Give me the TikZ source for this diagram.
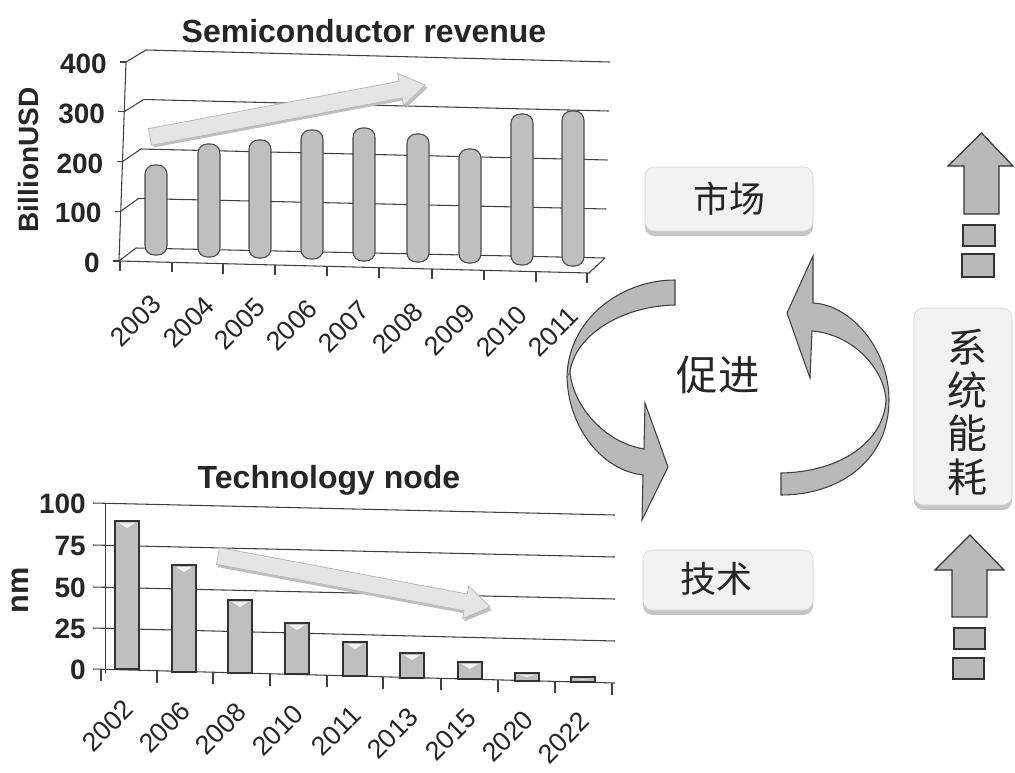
\documentclass[tikz,border=0pt]{standalone}
\usepackage{fontspec}
\setmainfont{Liberation Sans}
\newfontfamily\cjk{Noto Sans CJK SC}
\begin{document}
\begin{tikzpicture}[x=0.75pt,y=-0.75pt,
  gridl/.style={draw=black!75,line width=0.8pt},
  cyl/.style={fill=gray!50,draw=black!70,line width=0.8pt,rounded corners=7pt},
  blk/.style={fill=gray!50,draw=black!80,line width=0.9pt},
  ylab/.style={font=\bfseries\fontsize{21}{21}\selectfont,anchor=east,text=black!85,inner sep=0pt},
  yearlab/.style={font=\fontsize{20}{20}\selectfont,rotate=45,anchor=east,text=black!85,inner sep=1pt},
  ttl/.style={font=\bfseries\fontsize{24}{24}\selectfont,text=black!85},
  axttl/.style={font=\bfseries\fontsize{21}{21}\selectfont,text=black!85,rotate=90},
  cnbox/.style={rounded corners=7pt,fill=gray!10,draw=gray!35},
  cnshadow/.style={rounded corners=7pt,fill=gray!45,draw=none},
  cn/.style={font=\cjk\fontsize{27}{27}\selectfont,text=black!85},
  ribbon/.style={fill=gray!55,draw=black!75,line width=0.8pt},
  bigarrow/.style={fill=gray!55,draw=black!80,line width=0.9pt},
  lightarrow/.style={fill=gray!20,draw=gray!55,line width=0.6pt},
  lightshadow/.style={fill=gray!50,draw=none}
]
\useasboundingbox (0,0) rectangle (1015,772);

% ================= top chart =================
\node[ttl] (t1) at (364,31) {Semiconductor revenue};
\node[axttl] (ay1) at (28,160) {BillionUSD};
\foreach \k in {0,...,4}{
  \draw[gridl] ({126-1.75*\k},{62+49.75*\k}) -- ({146-2.5*\k},{50+49.5*\k}) -- ({610-1.25*\k},{62+49*\k});
  \draw[gridl] ({120-1.75*\k},{62+49.75*\k}) -- ({126-1.75*\k},{62+49.75*\k});
  \pgfmathtruncatemacro{\v}{400-100*\k}
  \node[ylab] (yl\k) at ({107-1.75*\k},{64+49.75*\k}) {\v};
}
\draw[gridl] (126,62) -- (119,261) -- (589,273) -- (605,258);
\foreach \x in {120,172,223,275,327,379,432,484,536,587}{
  \draw[gridl] (\x,{261+(\x-119)*12/470}) -- ++(0,10);
}
\foreach \x/\t/\b in {156/165/255,209/144/257,260/140/258,312/130/259,364/128/261,418/134/262,470/149/263,522/114/265,573/111/266}{
  \draw[cyl] ({\x-11},\t) rectangle ({\x+11},\b);
}
% light trend arrow
\begin{scope}[shift={(150,137)},rotate=10.7]
  \fill[lightshadow] (2,-6) -- (257,-6) -- (257,-14) -- (282,3) -- (257,19) -- (257,11) -- (2,11) -- cycle;
  \draw[lightarrow] (0,-8.5) -- (255,-8.5) -- (255,-16.5) -- (280,0) -- (255,16.5) -- (255,8.5) -- (0,8.5) -- cycle;
\end{scope}
\foreach \x/\yr [count=\i] in {156/2003,209/2004,260/2005,312/2006,364/2007,418/2008,470/2009,522/2010,573/2011}{
  \node[yearlab] (ya\i) at ({\x+2},{297+1.5*\i}) {\yr};
}

% ================= bottom chart =================
\node[ttl] (t2) at (329,480) {Technology node};
\node[axttl,font=\bfseries\fontsize{23}{23}\selectfont] (ay2) at (20,590) {nm};
\foreach \v/\yl/\yr in {100/503/515,75/545/557,50/587/599,25/628/641,0/669/683}{
  \draw[gridl] (93,\yl) -- (615,\yr);
  \node[ylab] (yb\v) at (86,{\yl+1}) {\v};
}
\draw[gridl,line width=0.5pt] (105,503) -- (105,673);
\foreach \x in {101,157,213,270,327,383,441,498,555,612}{
  \draw[gridl] (\x,{669+(\x-93)*14/518}) -- ++(0,12);
}
\foreach \x/\t/\b in {127/521/669,184/565/672,240/600/673,297/623/674,355/642/676,412/653/678,470/662/679,527/673/681,583/677/682}{
  \draw[blk] ({\x-12},\t) rectangle ({\x+12},\b);
  \fill[white,opacity=0.8] ({\x-8},{\t+2}) -- ({\x+8},{\t+2}) -- (\x,{\t+min(7,(\b-\t)/2)}) -- cycle;
}
\begin{scope}[shift={(218,556)},rotate=-10.6]
  \fill[lightshadow] (2,-6) -- (254,-6) -- (254,-14) -- (279,3) -- (254,19) -- (254,11) -- (2,11) -- cycle;
  \draw[lightarrow] (0,-8.5) -- (252,-8.5) -- (252,-16.5) -- (277,0) -- (252,16.5) -- (252,8.5) -- (0,8.5) -- cycle;
\end{scope}
\foreach \x/\yr [count=\i] in {127/2002,184/2006,240/2008,297/2010,355/2011,412/2013,470/2015,527/2020,583/2022}{
  \node[yearlab] (yb\i) at ({\x+3},{702+1.5*\i}) {\yr};
}

% ================= cycle =================
\fill[cnshadow] (645,171) rectangle (813,236);
\filldraw[cnbox] (645,167) rectangle (813,231);
\node[cn] (market) at (729,199) {市场};
\fill[cnshadow] (643,554) rectangle (813,615);
\filldraw[cnbox] (643,550) rectangle (813,610);
\node[cn] (tech) at (716,579) {技术};
\node[cn,font=\cjk\fontsize{31}{31}\selectfont] (promote) at (718,375) {促进};

% left ribbon arrow
\draw[ribbon] (675,280) .. controls (620,280) and (568,320) .. (567,377)
  .. controls (568,425) and (600,470) .. (643,475)
  -- (642,520) -- (668,467) -- (645,403) -- (644,449)
  .. controls (603,442) and (573,405) .. (570,372)
  .. controls (575,335) and (622,306) .. (675,305) -- cycle;
\draw[black!60,line width=0.6pt] (570,372) -- (567,377);
% right ribbon arrow
\draw[ribbon] (781,495) .. controls (840,495) and (889,460) .. (889,400)
  .. controls (889,350) and (852,305) .. (813,303)
  -- (813,256) -- (787,313) -- (810,378) -- (812,331)
  .. controls (852,334) and (884,368) .. (886,400)
  .. controls (884,442) and (840,472) .. (781,473) -- cycle;

% ================= system power =================
\fill[cnshadow] (914,312) rectangle (1012,510);
\filldraw[cnbox] (914,308) rectangle (1012,505);
\node[cn,font=\cjk\fontsize{30}{32.5}\selectfont,align=center] (power) at (967,412) {系\\统\\能\\耗};
\draw[bigarrow] (964,214) -- (964,166) -- (948,166) -- (981.5,133) -- (1013,166) -- (999,166) -- (999,214) -- cycle;
\draw[bigarrow] (963,225) rectangle (995,246);
\draw[bigarrow] (962,254) rectangle (994,277);
\draw[bigarrow] (952,617) -- (952,570) -- (935,570) -- (970,535) -- (1004,570) -- (987,570) -- (987,617) -- cycle;
\draw[bigarrow] (954,628) rectangle (985,649);
\draw[bigarrow] (953,658) rectangle (984,679);
\end{tikzpicture}
\end{document}
